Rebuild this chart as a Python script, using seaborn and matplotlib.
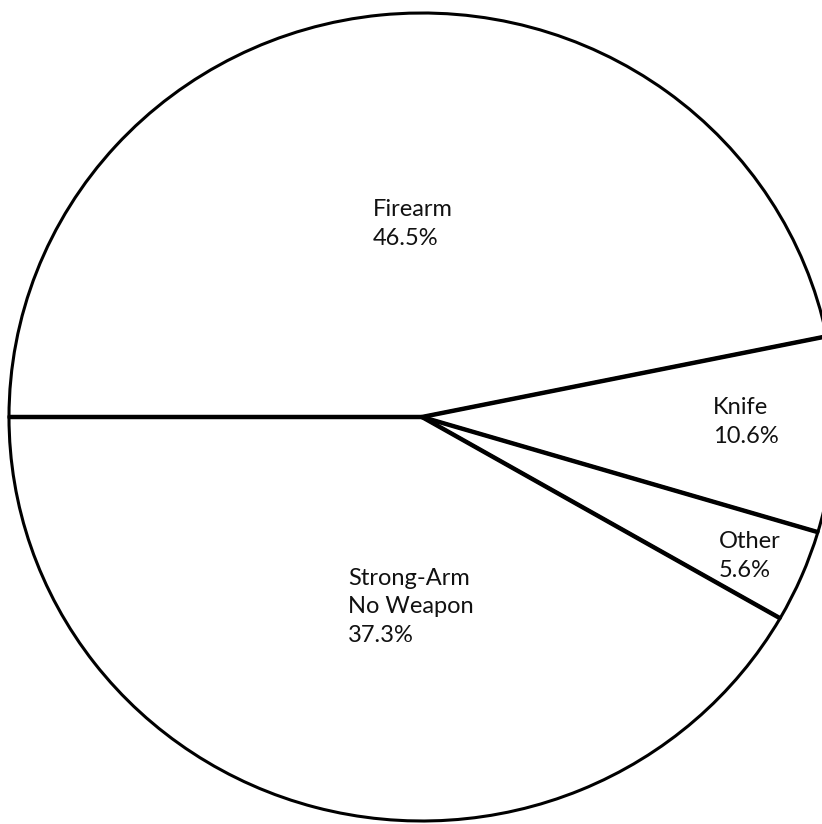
import matplotlib
matplotlib.use("Agg")
import matplotlib.pyplot as plt
import seaborn as sns
import numpy as np

# wedge shares as drawn in the picture (clockwise from the left horizontal)
categories = ["Firearm", "Knife", "Other", "Strong-Arm\nNo Weapon"]
drawn_share = [46.8, 7.8, 3.7, 41.7]
# percentages printed on the chart
printed_pct = ["46.5%", "10.6%", "5.6%", "37.3%"]

sns.set_style("white")
plt.rcParams["font.family"] = ["Lato", "DejaVu Sans"]

fig = plt.figure(figsize=(8.22, 8.24), dpi=100)
ax = fig.add_axes([0, 0, 1, 1])

wedges, _ = ax.pie(
    drawn_share,
    startangle=180,
    counterclock=False,
    colors=["white"] * len(drawn_share),
    wedgeprops=dict(edgecolor="black", linewidth=2.2),
)

# heavier radial dividers, taken from the wedge angles
for w in wedges:
    t = np.deg2rad(w.theta1)
    ax.plot([0, np.cos(t)], [0, np.sin(t)], color="black", lw=3.2,
            solid_capstyle="butt", zorder=5)

# circle slightly wider than tall, center at ~(422, 417) px
ax.set_aspect("auto")
ax.set_xlim(-422 / 413, (822 - 422) / 413)
ax.set_ylim(417 / 404 - 824 / 404, 417 / 404)
ax.axis("off")

# label positions (pixel left x, last-line baseline y)
label_px = [(373, 245), (713, 443), (719, 577), (348, 642)]
for name, pct, (px, py) in zip(categories, printed_pct, label_px):
    fig.text(px / 822, 1 - py / 824, name + "\n" + pct,
             ha="left", va="baseline", fontsize=17, linespacing=1.45,
             color="#111111")

fig.savefig("out.png", dpi=100, facecolor="white")
